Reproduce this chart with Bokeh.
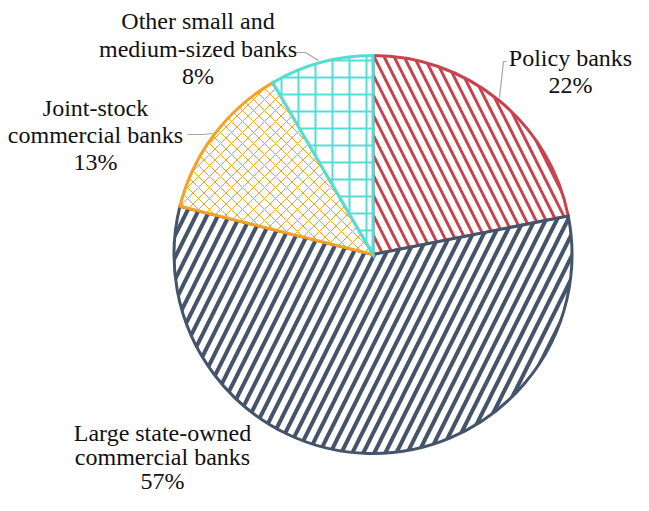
import math
from bokeh.plotting import figure
from bokeh.models import Range1d
from bokeh.embed import file_html
from bokeh.resources import INLINE
from bokeh.core.properties import value

# ---------------- data ----------------
categories = [
    "Policy banks",
    "Large state-owned commercial banks",
    "Joint-stock commercial banks",
    "Other small and medium-sized banks",
]
shares = [21.9, 57.0, 12.7, 8.4]          # percent, clockwise from 12 o'clock
label_lines = [
    ["Policy banks"],
    ["Large state-owned", "commercial banks"],
    ["Joint-stock", "commercial banks"],
    ["Other small and", "medium-sized banks"],
]

# ---------------- styles ----------------
colors = ["#C9434F", "#44546A", "#F4A124", "#52DDD5"]
hatches = ["\\", "/", "x", "+"]
hatch_scales = [20, 22, 11, 17]
hatch_weights = [3, 4, 1, 2]
outline_widths = [3, 3, 3, 3]

# ---------------- layout (picture pixel coords, y downward) ----------------
W, H = 633, 495


def to_data(xw, yw):
    return xw, H - yw


center_w = (372.5, 254)
R = 199
label_baselines = [
    (570, [57, 84]),
    (162, [432, 456, 480]),
    (95, [107, 134, 161]),
    (197.5, [20, 48, 75]),
]
leaders = [
    [(499, 97), (503, 61), (506, 61)],
    None,
    [(187, 134), (202, 134), (212, 133)],
    [(292, 52), (305, 52), (318, 60)],
]

p = figure(
    width=W, height=H,
    x_range=Range1d(0, W), y_range=Range1d(0, H),
    x_axis_type=None, y_axis_type=None,
    toolbar_location=None, output_backend="svg",
    min_border=0, outline_line_color=None,
    background_fill_color="white", border_fill_color="white",
)
p.xgrid.visible = False
p.ygrid.visible = False

cx, cy = to_data(*center_w)
cum = 0.0
total = sum(shares)
for i, s in enumerate(shares):
    start = math.pi / 2 - 2 * math.pi * cum / total
    cum += s
    end = math.pi / 2 - 2 * math.pi * cum / total
    p.wedge(
        x=[cx], y=[cy], radius=R,
        start_angle=start, end_angle=end, direction="clock",
        fill_color="white",
        line_color=colors[i], line_width=outline_widths[i], line_join="miter",
        hatch_pattern=hatches[i], hatch_color=colors[i],
        hatch_scale=hatch_scales[i], hatch_weight=hatch_weights[i],
    )

# leader lines
for pts in leaders:
    if pts is None:
        continue
    xs, ys = zip(*[to_data(*pt) for pt in pts])
    p.line(list(xs), list(ys), line_color="#A6A6A6", line_width=1.2)

# labels
tx, ty, tt = [], [], []
for i, lines in enumerate(label_lines):
    full = lines + [f"{round(shares[i])}%"]
    bx, bys = label_baselines[i]
    for t, by in zip(full, bys):
        x, y = to_data(bx, by)
        tx.append(x)
        ty.append(y)
        tt.append(t)

p.text(
    x=tx, y=ty, text=tt,
    text_font=value("Liberation Serif"), text_font_size="24px",
    text_align="center", text_baseline="alphabetic", text_color="#111111",
)

open("out.html", "w").write(file_html(p, INLINE))
